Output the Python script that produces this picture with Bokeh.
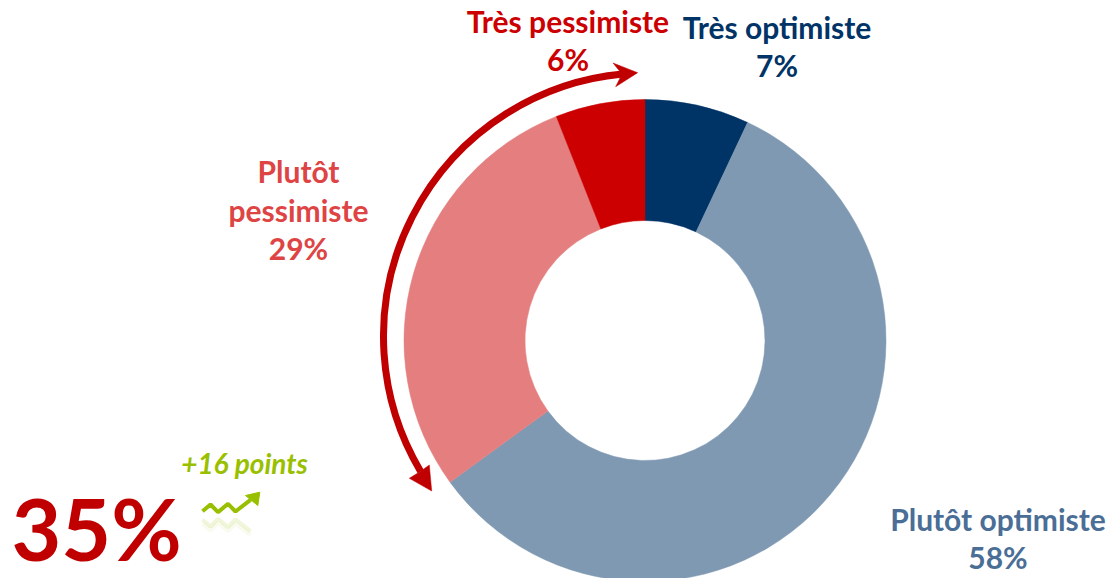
from math import pi, atan2
from bokeh.embed import file_html
from bokeh.resources import INLINE
from bokeh.plotting import figure
from bokeh.models import Range1d
from bokeh.core.properties import value

# data
categories = ["Très optimiste", "Plutôt optimiste", "Plutôt pessimiste", "Très pessimiste"]
shares = [7, 58, 29, 6]
slice_colors = ["#003366", "#7F99B2", "#E57F7F", "#CC0000"]
label_lines = [["Très optimiste", "7%"], ["Plutôt optimiste", "58%"],
               ["Plutôt", "pessimiste", "29%"], ["Très pessimiste", "6%"]]
label_colors = ["#003366", "#4A6E96", "#DE4444", "#CC0000"]
label_x = [776.5, 997.5, 298, 567.5]
label_y = [[26, 64], [518, 556], [170, 209, 247], [20, 58]]
headline = "35%"
delta = "+16 points"

W, H = 1108, 578
FONT = "Lato"


def Y(y):
    return H - y


p = figure(width=W, height=H, x_range=Range1d(0, W), y_range=Range1d(0, H),
           output_backend="svg", toolbar_location=None, min_border=0)
p.axis.visible = False
p.grid.visible = False
p.outline_line_color = None
p.background_fill_color = "#FFFFFF"

# donut, clockwise from the top
cx, cy, r_in, r_out = 644.5, 340, 120, 241
total = sum(shares)
cum = 0
for s, c in zip(shares, slice_colors):
    start = pi / 2 - 2 * pi * (cum + s) / total
    end = pi / 2 - 2 * pi * cum / total
    p.annular_wedge(x=[cx], y=[Y(cy)], inner_radius=r_in, outer_radius=r_out,
                    start_angle=start, end_angle=end, fill_color=c, line_color=c, line_width=0.5)
    cum += s

# double-headed bracket arrow
RED = "#C00000"
ax, ay, ar = 646.7, 336, 263.7
a_start = atan2(Y(471) - Y(ay), 420 - ax)
a_end = atan2(Y(72.5) - Y(ay), 622 - ax)
p.arc(x=[ax], y=[Y(ay)], radius=ar, start_angle=a_end, end_angle=a_start,
      line_color=RED, line_width=7)
p.patch([637.2, 612.5, 621.5, 615.2], [Y(72.2), Y(62.5), Y(73.5), Y(86.2)], fill_color=RED, line_color=RED, line_width=0.5)
p.patch([431.2, 408.8, 419.5, 428.8], [Y(490.5), Y(477.8), Y(471.2), Y(464.5)], fill_color=RED, line_color=RED, line_width=0.5)

# labels
for lines, col, x, ys in zip(label_lines, label_colors, label_x, label_y):
    p.text(x=[x] * len(lines), y=[Y(v) for v in ys], text=lines, text_color=col,
           text_font=value(FONT), text_font_style="bold", text_font_size="30px",
           text_align="center", text_baseline="middle")

p.text(x=[96], y=[Y(527)], text=[headline], text_color=RED, text_font=value(FONT),
       text_font_style="bold", text_font_size="86px", text_align="center", text_baseline="middle")
p.text(x=[244], y=[Y(462)], text=[delta], text_color="#99C000", text_font=value(FONT),
       text_font_style="bold italic", text_font_size="28px", text_align="center", text_baseline="middle")

# small green trend icon with its reflection
GREEN = "#99C000"
zx = [202, 210, 217.5, 227.5, 235, 250]
zy = [510.7, 504, 511.7, 503.3, 511, 499.3]
p.line(zx, [Y(v) for v in zy], line_color=GREEN, line_width=4)
p.patch([259.3, 245, 257.3], [Y(491.7), Y(495), Y(505)], fill_color=GREEN, line_color=GREEN)
p.line(zx, [Y(2 * 515 - v) for v in zy], line_color=GREEN, line_width=4, line_alpha=0.15)
p.line(zx, [Y(2 * 517 - v) for v in zy], line_color=GREEN, line_width=4, line_alpha=0.06)

open("out.html", "w").write(file_html(p, INLINE))
